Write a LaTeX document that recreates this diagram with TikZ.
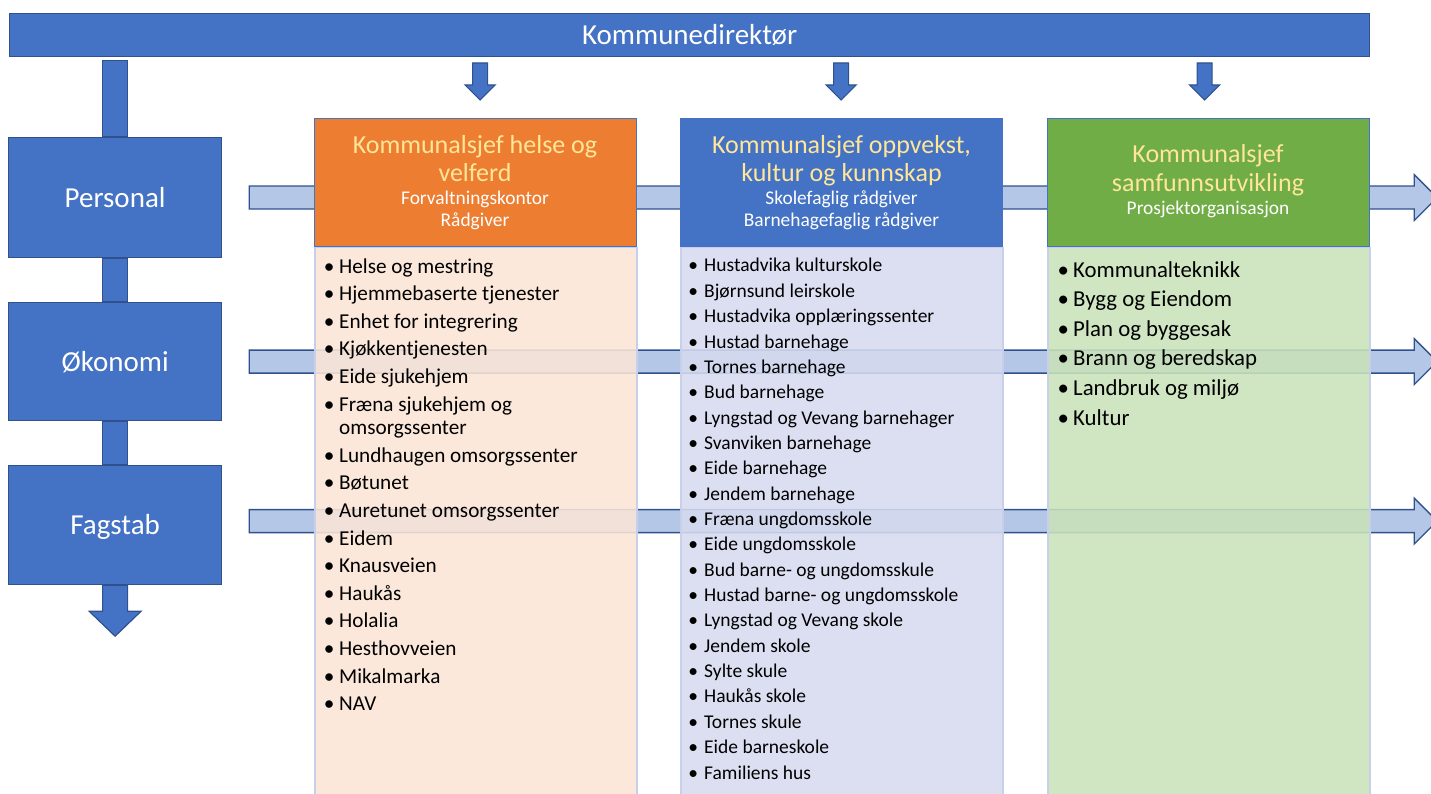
\documentclass[tikz,border=0pt]{standalone}
\usepackage{fontspec}
\setmainfont{Carlito}
\usetikzlibrary{calc}
\definecolor{accblue}{HTML}{4472C4}
\definecolor{darkblue}{HTML}{2F528F}
\definecolor{lightarrow}{HTML}{B4C7E7}
\definecolor{orangeh}{HTML}{ED7D31}
\definecolor{greenh}{HTML}{70AD47}
\definecolor{titleyellow}{HTML}{FFE699}
\definecolor{bodyor}{HTML}{FBE5D6}
\definecolor{bodybl}{HTML}{D6DBEF}
\definecolor{bodygr}{HTML}{C9E2B9}
\definecolor{bodyline}{HTML}{C7D0EA}
\newcommand\bul[1]{\llap{\makebox[0pt]{•}\hspace{#1}}}
\begin{document}
\begin{tikzpicture}[x=1pt,y=-1pt,
  bluebox/.style={draw=darkblue, line width=1.2pt, fill=accblue, text=white,
    font=\fontsize{29}{34}\selectfont, text height=19pt, text depth=0pt,
    inner sep=0pt, anchor=north west},
  blockarr/.style={draw=darkblue, line width=1.2pt, fill=accblue},
  lightarr/.style={draw=darkblue, line width=1.3pt, fill=lightarrow},
  headbox/.style={draw=accblue, line width=1.2pt, minimum width=322pt,
    minimum height=128pt, anchor=north west, inner sep=0pt},
  bodybox/.style={draw=bodyline, line width=1.5pt, fill opacity=0.88,
    minimum width=322pt, minimum height=560pt, anchor=north west, inner sep=0pt},
  htitle/.style={text=titleyellow, font=\fontsize{26}{30}\selectfont, anchor=base, inner sep=0pt},
  hsub/.style={text=white, font=\fontsize{19.4}{22}\selectfont, anchor=base, inner sep=0pt},
  itemA/.style={anchor=base west, inner sep=0pt, font=\fontsize{21.2}{24}\selectfont},
  itemB/.style={anchor=base west, inner sep=0pt, font=\fontsize{19.5}{22}\selectfont},
  itemC/.style={anchor=base west, inner sep=0pt, font=\fontsize{22.8}{26}\selectfont},
]
\useasboundingbox (0,0) rectangle (1431,794);
\clip (0,0) rectangle (1431,794);

% left side boxes
\node[bluebox, minimum width=1360pt, minimum height=43pt] (dir) at (9,13) {Kommunedirektør};
\node[bluebox, minimum width=213pt, minimum height=120pt] (pers) at (8,137) {Personal};
\node[bluebox, minimum width=213pt, minimum height=118pt] (oko) at (8,302) {Økonomi};
\node[bluebox, minimum width=213pt, minimum height=119pt] (fag) at (8,465) {Fagstab};

% vertical connectors on the left
\draw[blockarr] ($(pers.north)+(-12.5,0)$) rectangle ($(pers.north|-dir.south)+(12.5,3)$);
\draw[blockarr] ($(pers.south)+(-12.5,0)$) rectangle ($(oko.north)+(12.5,0)$);
\draw[blockarr] ($(oko.south)+(-12.5,0)$) rectangle ($(fag.north)+(12.5,0)$);
\draw[blockarr] ($(fag.south)+(-12.5,0)$) -- ($(fag.south)+(-12.5,26)$) -- ($(fag.south)+(-26,26)$)
  -- ($(fag.south)+(0,51)$) -- ($(fag.south)+(26,26)$) -- ($(fag.south)+(12.5,26)$)
  -- ($(fag.south)+(12.5,0)$) -- cycle;

% horizontal light arrows
\foreach \n/\dy in {pers/0,oko/0,fag/-4}{
  \path ($(\n.east)+(27,\dy)$) coordinate (st);
  \draw[lightarr] ($(st)+(0,-11.5)$) -- ($(st)+(1165,-11.5)$) -- ($(st)+(1165,-23)$)
    -- ($(st)+(1188,0)$) -- ($(st)+(1165,23)$) -- ($(st)+(1165,11.5)$)
    -- ($(st)+(0,11.5)$) -- cycle;
}

% column bodies
\node[bodybox, fill=bodyor] (bd1) at (314,247) {};
\node[bodybox, fill=bodybl] (bd2) at (680,247) {};
\node[bodybox, fill=bodygr] (bd3) at (1047,247) {};

% column headers
\node[headbox, fill=orangeh] (h1) at (314,118) {};
\node[headbox, fill=accblue] (h2) at (680,118) {};
\node[headbox, fill=greenh] (h3) at (1047,118) {};

% small down arrows
\foreach \h/\dx in {h1/4.5,h2/-0.5,h3/-4}{
  \path ($(\h.north)+(\dx,0)$) coordinate (b);
  \draw[blockarr] ($(b)+(-7.5,-55)$) -- ($(b)+(7.5,-55)$) -- ($(b)+(7.5,-33)$)
    -- ($(b)+(15,-33)$) -- ($(b)+(0,-18)$) -- ($(b)+(-15,-33)$) -- ($(b)+(-7.5,-33)$) -- cycle;
}

% header texts
\node[htitle] (t1a) at (475,154) {Kommunalsjef helse og};
\node[htitle] (t1b) at (475,182) {velferd};
\node[hsub] (s1a) at (475,205) {Forvaltningskontor};
\node[hsub] (s1b) at (475,227) {Rådgiver};

\node[htitle] (t2a) at (841.5,154) {Kommunalsjef oppvekst,};
\node[htitle] (t2b) at (841.5,182) {kultur og kunnskap};
\node[hsub] (s2a) at (841.5,205) {Skolefaglig rådgiver};
\node[hsub] (s2b) at (841.5,227) {Barnehagefaglig rådgiver};

\node[htitle] (t3a) at (1208,163) {Kommunalsjef};
\node[htitle] (t3b) at (1208,192) {samfunnsutvikling};
\node[hsub] (s3a) at (1208,215) {Prosjektorganisasjon};

% list column 1
\foreach \t [count=\i from 0] in {Helse og mestring, Hjemmebaserte tjenester, Enhet for integrering, Kjøkkentjenesten, Eide sjukehjem, Fræna sjukehjem og}
  \node[itemA] (a\i) at (339,273+27.6*\i) {\bul{10pt}\t};
\node[itemA] (a5b) at (339,434.6) {omsorgssenter};
\foreach \t [count=\i from 6] in {Lundhaugen omsorgssenter, Bøtunet, Auretunet omsorgssenter, Eidem, Knausveien, Haukås, Holalia, Hesthovveien, Mikalmarka, NAV}
  \node[itemA] (a\i) at (339,296.6+27.6*\i) {\bul{10pt}\t};

% list column 2
\foreach \t [count=\i from 0] in {Hustadvika kulturskole, Bjørnsund leirskole, Hustadvika opplæringssenter, Hustad barnehage, Tornes barnehage, Bud barnehage, Lyngstad og Vevang barnehager, Svanviken barnehage, Eide barnehage, Jendem barnehage, Fræna ungdomsskole, Eide ungdomsskole, Bud barne- og ungdomsskule, Hustad barne- og ungdomsskole, Lyngstad og Vevang skole, Jendem skole, Sylte skule, Haukås skole, Tornes skule, Eide barneskole, Familiens hus}
  \node[itemB] (b\i) at (704,272+25.35*\i) {\bul{11pt}\t};

% list column 3
\foreach \t [count=\i from 0] in {Kommunalteknikk, Bygg og Eiendom, Plan og byggesak, Brann og beredskap, Landbruk og miljø, Kultur}
  \node[itemC] (c\i) at (1073,277+29.6*\i) {\bul{10pt}\t};
\end{tikzpicture}
\end{document}
